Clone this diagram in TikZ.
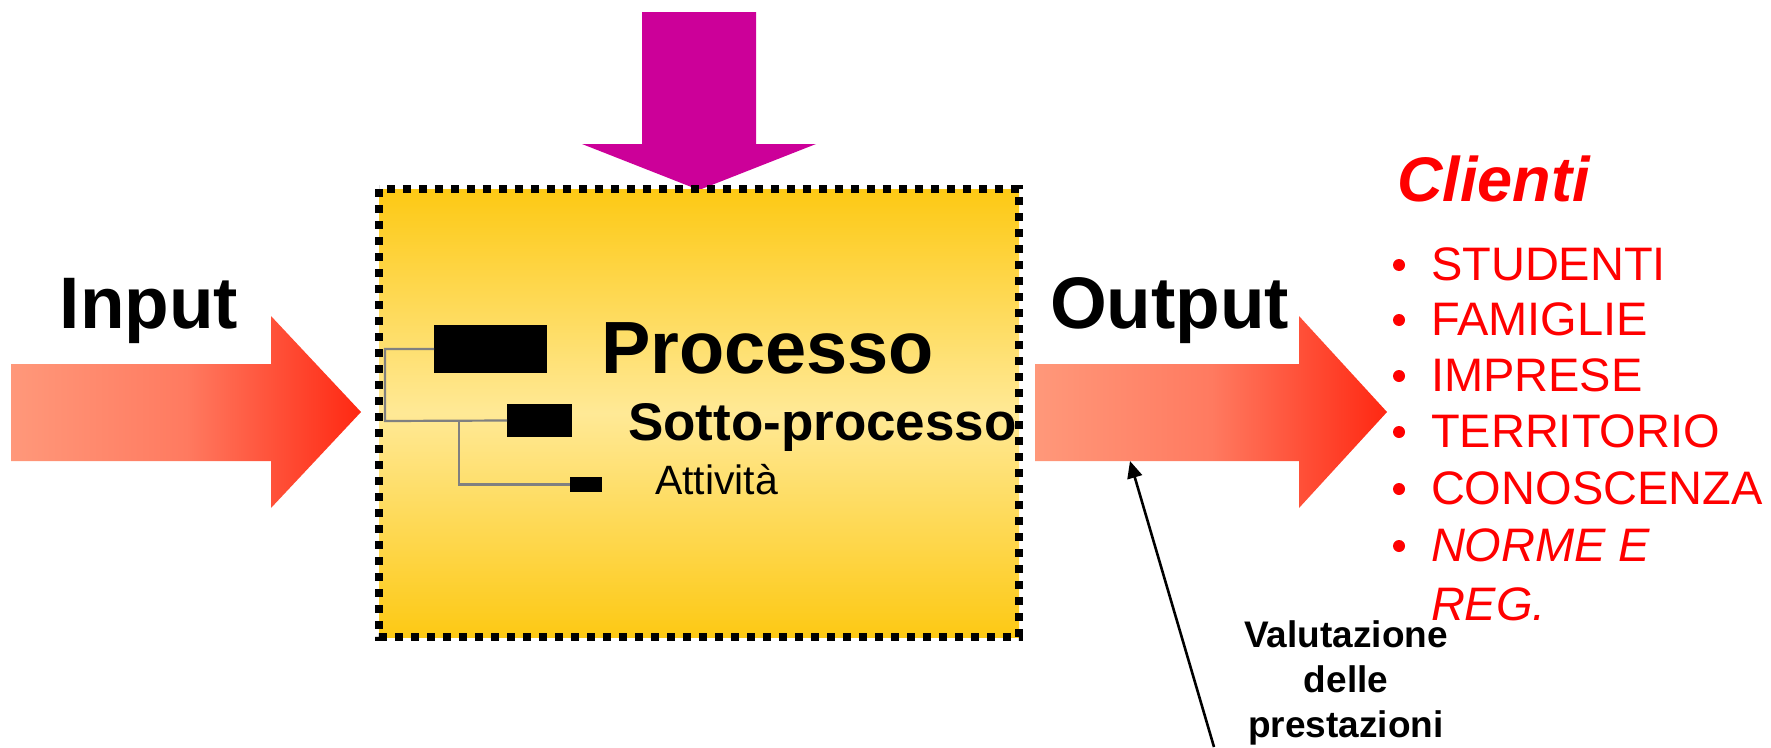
\documentclass[tikz,border=0pt]{standalone}
\usepackage{fontspec}
\setmainfont{Liberation Sans}
\usetikzlibrary{arrows.meta}
\definecolor{inarrow}{RGB}{204,0,153}
\definecolor{flowlight}{RGB}{255,152,122}
\definecolor{flowmid}{RGB}{255,122,96}
\definecolor{flowdark}{RGB}{255,40,18}
\definecolor{boxgold}{RGB}{253,201,20}
\definecolor{boxpale}{RGB}{255,233,150}
\definecolor{treegray}{RGB}{128,128,128}
\definecolor{clientred}{RGB}{255,0,0}
\newcommand{\fsz}[1]{\fontsize{#1}{#1}\selectfont}
\begin{document}
\begin{tikzpicture}[x=1pt,y=-1pt,
  lbl/.style={inner sep=0pt, outer sep=0pt},
  flowarrow/.style={left color=flowlight, right color=flowdark, middle color=flowmid},
  blockbox/.style={fill=black},
  treeline/.style={draw=treegray, line width=2.2pt},
  bulletdot/.style={fill=clientred},
  clientitem/.style={lbl, anchor=base west, text=clientred, font=\fsz{47}},
]
\useasboundingbox (0,0) rectangle (1771,747);

% incoming resources arrow (top)
\fill[inarrow] (642,12) -- (756,12) -- (756,144) -- (816,144) -- (699,190)
  -- (582,144) -- (642,144) -- cycle;

% input and output arrows
\shade[flowarrow] (11,364) -- (271,364) -- (271,316) -- (361,412) -- (271,508)
  -- (271,461) -- (11,461) -- cycle;
\shade[flowarrow] (1035,364) -- (1299,364) -- (1299,316) -- (1387,412) -- (1299,508)
  -- (1299,461) -- (1035,461) -- cycle;
\coordinate (outbottom) at (1130,461);

% process box
\shade[top color=boxgold, bottom color=boxgold, middle color=boxpale]
  (379,189) rectangle (1019,637);
\draw[line width=8pt, dash pattern=on 8pt off 8pt] (379,189) rectangle (1019,637);

% hierarchy blocks
\node[blockbox, lbl, minimum width=113pt, minimum height=48pt, anchor=north west] (bproc) at (434,325) {};
\node[blockbox, lbl, minimum width=65pt, minimum height=33pt, anchor=north west] (bsub) at (507,404) {};
\node[blockbox, lbl, minimum width=32pt, minimum height=15pt, anchor=north west] (bact) at (570,477) {};
\coordinate (trunk) at (385,421);
\coordinate (branch) at (459,421);
\draw[treeline] (bproc.west) -| (trunk) -- (bsub.west);
\draw[treeline] (branch) |- (bact.west);

% labels
\node[lbl, anchor=base, font=\bfseries\fsz{73}] (input) at (149,328) {Input};
\node[lbl, anchor=base west, font=\bfseries\fsz{73}] (output) at (1050,328) {Output};
\node[lbl, anchor=base west, font=\bfseries\fsz{74}] (proc) at (601,373) {Processo};
\node[lbl, anchor=base west, font=\bfseries\fsz{53}] (sub) at (628,440) {Sotto-processo};
\node[lbl, anchor=base west, font=\fsz{41}] (act) at (655,494) {Attività};

% clients
\node[lbl, anchor=base west, text=clientred, font=\bfseries\itshape\fsz{63}] (clienti) at (1397,201) {Clienti};
\foreach \name/\txt/\yb in {c1/STUDENTI/280, c2/FAMIGLIE/335, c3/IMPRESE/391,
    c4/TERRITORIO/447, c5/CONOSCENZA/504} {
  \fill[bulletdot] (1399,\yb-15) circle (6pt);
  \node[clientitem] (\name) at (1431,\yb) {\txt};
}
\fill[bulletdot] (1399,561-15) circle (6pt);
\node[clientitem, font=\itshape\fsz{47}] (c6) at (1431,561) {NORME E};
\node[clientitem, font=\itshape\fsz{47}] (c7) at (1431,620) {REG.};

% performance evaluation
\node[lbl, anchor=base, font=\bfseries\fsz{37}] (val1) at (1346,647) {Valutazione};
\node[lbl, anchor=base, font=\bfseries\fsz{37}] (val2) at (1346,692) {delle};
\node[lbl, anchor=base, font=\bfseries\fsz{37}] (val3) at (1346,737) {prestazioni};
\coordinate (valfoot) at (1214,747);
\draw[line width=2.6pt, -{Triangle[length=17pt,width=15pt]}] (valfoot) -- (outbottom);
\end{tikzpicture}
\end{document}
